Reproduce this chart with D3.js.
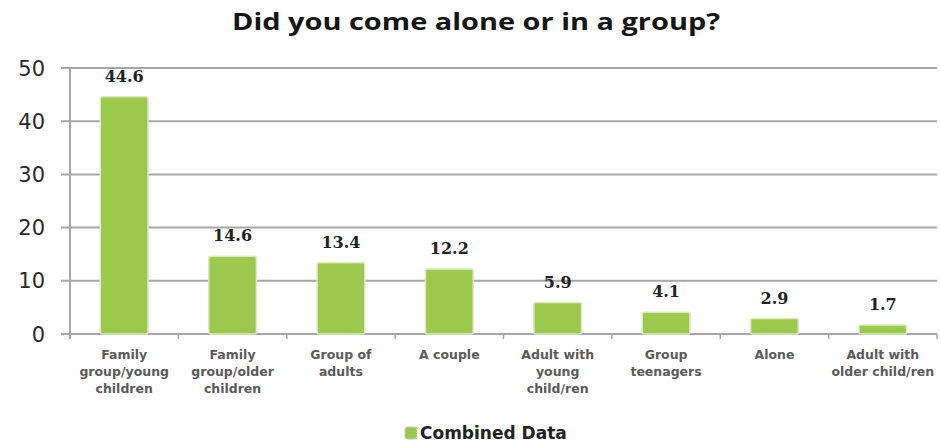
<!DOCTYPE html>
<html>
<head>
<meta charset="utf-8">
<script src="https://cdn.jsdelivr.net/npm/d3@7"></script>
<style>
  html, body { margin: 0; padding: 0; background: #fff; }
  svg { display: block; }
</style>
</head>
<body>
<svg id="chart" width="940" height="443"></svg>
<script>
const categories = [
  ["Family", "group/young", "children"],
  ["Family", "group/older", "children"],
  ["Group of", "adults"],
  ["A couple"],
  ["Adult with", "young", "child/ren"],
  ["Group", "teenagers"],
  ["Alone"],
  ["Adult with", "older child/ren"]
];
const values = [44.6, 14.6, 13.4, 12.2, 5.9, 4.1, 2.9, 1.7];
const yTicks = [0, 10, 20, 30, 40, 50];
const title = "Did you come alone or in a group?";
const seriesName = "Combined Data";

const svg = d3.select("#chart");
const plotLeft = 70, plotRight = 937, plotTop = 68, plotBottom = 334;

const x = d3.scaleBand().domain(d3.range(categories.length)).range([plotLeft, plotRight]).paddingInner(0.56).paddingOuter(0.28);
const xEdge = d3.scaleBand().domain(d3.range(categories.length)).range([plotLeft, plotRight]);
const y = d3.scaleLinear().domain([0, 50]).range([plotBottom, plotTop]);

// Title
svg.append("text")
  .attr("x", 232).attr("y", 30)
  .attr("textLength", 488)
  .attr("lengthAdjust", "spacingAndGlyphs")
  .style("font-family", "'Open Sans', 'DejaVu Sans', sans-serif")
  .style("font-weight", "bold")
  .style("font-size", "24px")
  .attr("fill", "#151515")
  .text(title);

// Gridlines
svg.append("g").selectAll("line").data(yTicks).join("line")
  .attr("x1", plotLeft - 9).attr("x2", plotRight)
  .attr("y1", d => y(d)).attr("y2", d => y(d))
  .attr("stroke", "#a6a6a6").attr("stroke-width", 2);

// Y axis line
svg.append("line")
  .attr("x1", plotLeft).attr("x2", plotLeft)
  .attr("y1", y(50)).attr("y2", y(0) + 5)
  .attr("stroke", "#a6a6a6").attr("stroke-width", 2);

// Y tick labels
svg.append("g").selectAll("text").data(yTicks).join("text")
  .attr("x", 45).attr("y", d => y(d))
  .attr("dy", "0.36em")
  .attr("text-anchor", "end")
  .style("font-family", "'DejaVu Sans', sans-serif")
  .style("font-size", "21px")
  .attr("fill", "#2a2a2a")
  .text(d => d);

// Category tick marks on the baseline
svg.append("g").selectAll("line").data(d3.range(categories.length + 1)).join("line")
  .attr("x1", i => plotLeft + i * xEdge.bandwidth())
  .attr("x2", i => plotLeft + i * xEdge.bandwidth())
  .attr("y1", y(0)).attr("y2", y(0) + 5)
  .attr("stroke", "#a6a6a6").attr("stroke-width", 1.5);

// Bars
svg.append("g").selectAll("rect").data(values).join("rect")
  .attr("x", (d, i) => x(i))
  .attr("y", d => y(d))
  .attr("width", x.bandwidth())
  .attr("height", d => y(0) - y(d))
  .attr("rx", 2)
  .attr("fill", "#9dc84e")
  .attr("stroke", "#dbe9c6")
  .attr("stroke-width", 1.5);

// Value labels
svg.append("g").selectAll("text").data(values).join("text")
  .attr("x", (d, i) => x(i) + x.bandwidth() / 2)
  .attr("y", d => y(d) - 15)
  .attr("text-anchor", "middle")
  .style("font-family", "'DejaVu Serif', 'Liberation Serif', serif")
  .style("font-weight", "bold")
  .style("font-size", "16px")
  .attr("fill", "#222")
  .text(d => d.toFixed(1));

// Category labels
const catG = svg.append("g").selectAll("text").data(categories).join("text")
  .attr("x", (d, i) => xEdge(i) + xEdge.bandwidth() / 2)
  .attr("y", 359)
  .attr("text-anchor", "middle")
  .style("font-family", "'DejaVu Sans', sans-serif")
  .style("font-weight", "bold")
  .style("font-size", "12.5px")
  .attr("fill", "#5a5a5a");
catG.selectAll("tspan").data((d, i) => d.map(t => ({ t, i }))).join("tspan")
  .attr("x", d => xEdge(d.i) + xEdge.bandwidth() / 2)
  .attr("dy", (d, j) => j === 0 ? 0 : 17)
  .text(d => d.t);

// Legend
svg.append("rect")
  .attr("x", 405).attr("y", 427).attr("width", 12).attr("height", 12)
  .attr("rx", 2)
  .attr("fill", "#9dc84e").attr("stroke", "#c9c9c9");
svg.append("text")
  .attr("x", 420).attr("y", 439)
  .style("font-family", "'DejaVu Sans', sans-serif")
  .style("font-weight", "bold")
  .style("font-size", "17px")
  .attr("fill", "#222")
  .text(seriesName);
</script>
</body>
</html>
